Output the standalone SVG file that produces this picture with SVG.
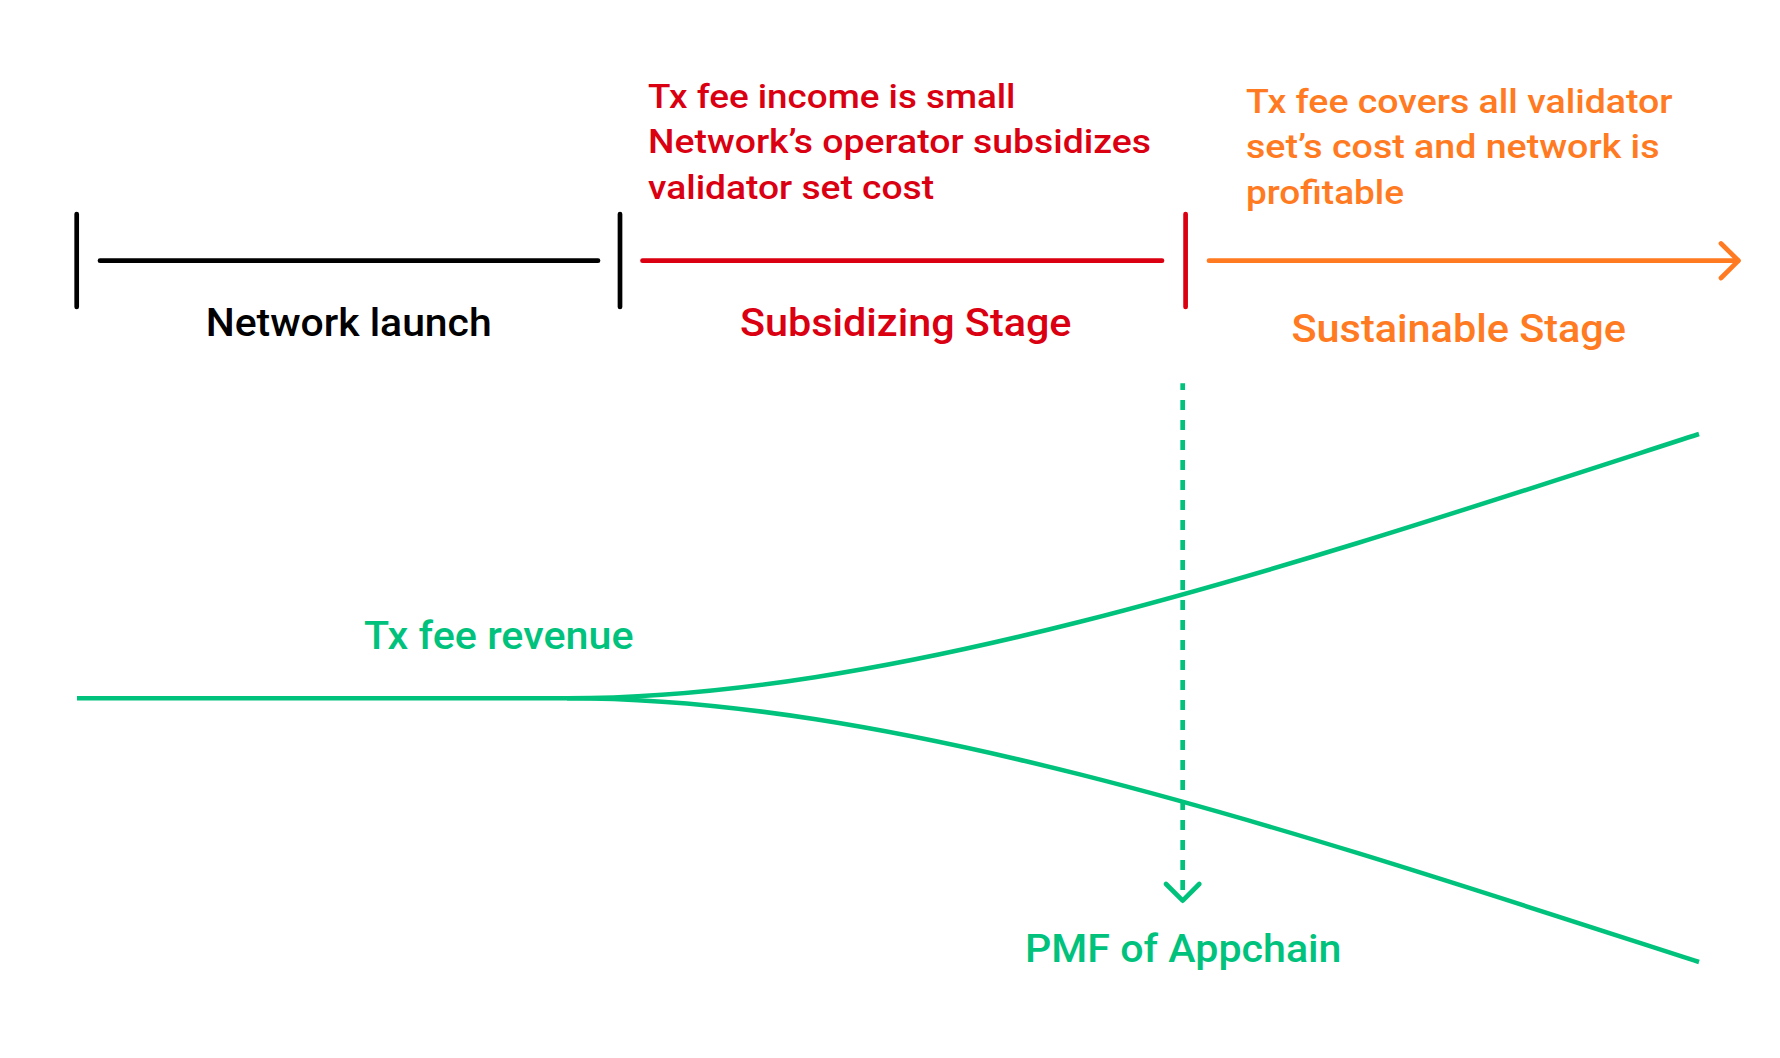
<svg xmlns="http://www.w3.org/2000/svg" width="1780" height="1058" viewBox="0 0 1780 1058">
<style>
  .ln { fill: none; stroke-width: 4.7; stroke-linecap: round; stroke-linejoin: round; }
  .crv { fill: none; stroke: #00C27C; stroke-width: 4.5; }
  .t { font-family: Roboto, "Liberation Sans", "DejaVu Sans", sans-serif; font-weight: 500; }
  .lbl { font-size: 38px; }
  .dsc { font-size: 34px; }
  .blk { stroke: #000000; }
  .red { stroke: #DA0011; }
  .org { stroke: #FF7A21; }
  .grn { stroke: #00C27C; }
</style>
<rect width="1780" height="1058" fill="#FFFFFF"/>

<g id="network-launch">
  <line class="ln blk" x1="76.7" y1="214" x2="76.7" y2="307"/>
  <line class="ln blk" x1="100" y1="260.7" x2="598" y2="260.7"/>
  <text class="t lbl" x="205.7" y="336" fill="#000000" textLength="286" lengthAdjust="spacingAndGlyphs">Network launch</text>
</g>

<g id="subsidizing-stage">
  <line class="ln blk" x1="620" y1="214" x2="620" y2="307"/>
  <line class="ln red" x1="642.5" y1="260.7" x2="1162" y2="260.7"/>
  <text class="t lbl" x="740" y="336" fill="#DA0011" textLength="331.5" lengthAdjust="spacingAndGlyphs">Subsidizing Stage</text>
  <text class="t dsc" fill="#DA0011">
    <tspan x="648" y="107.7" textLength="367.5" lengthAdjust="spacingAndGlyphs">Tx fee income is small</tspan>
    <tspan x="648" y="153.3" textLength="503" lengthAdjust="spacingAndGlyphs">Network’s operator subsidizes</tspan>
    <tspan x="648" y="199.3" textLength="286" lengthAdjust="spacingAndGlyphs">validator set cost</tspan>
  </text>
</g>

<g id="sustainable-stage">
  <line class="ln red" x1="1185.6" y1="214" x2="1185.6" y2="307"/>
  <line class="ln org" x1="1209" y1="260.7" x2="1738" y2="260.7"/>
  <path class="ln org" d="M1721,243.5 L1738.5,260.7 L1721,278"/>
  <text class="t lbl" x="1291.5" y="341.7" fill="#FF7A21" textLength="334.5" lengthAdjust="spacingAndGlyphs">Sustainable Stage</text>
  <text class="t dsc" fill="#FF7A21">
    <tspan x="1246" y="112.7" textLength="426.6" lengthAdjust="spacingAndGlyphs">Tx fee covers all validator</tspan>
    <tspan x="1246" y="158.3" textLength="413.5" lengthAdjust="spacingAndGlyphs">set’s cost and network is</tspan>
    <tspan x="1246" y="204" textLength="158" lengthAdjust="spacingAndGlyphs">profitable</tspan>
  </text>
</g>

<g id="tx-fee-revenue">
  <path class="crv" d="M77,698.2 L567,698.2 C900,698.2 1300,563 1699,434"/>
  <path class="crv" d="M567,698.2 C900,698.2 1300,833 1699,962"/>
  <text class="t lbl" x="364" y="648.5" fill="#00C27C" textLength="269.5" lengthAdjust="spacingAndGlyphs">Tx fee revenue</text>
</g>

<g id="pmf-of-appchain">
  <text class="t lbl" x="1025" y="962" fill="#00C27C" textLength="316.5" lengthAdjust="spacingAndGlyphs">PMF of Appchain</text>
</g>

<g id="connectors">
  <line class="grn" x1="1182.7" y1="383.3" x2="1182.7" y2="895" stroke-width="4.7" stroke-dasharray="10 10" stroke-dashoffset="3.3" fill="none"/>
  <path class="ln grn" d="M1166,884 L1182.7,900.7 L1199.3,884"/>
</g>
</svg>
